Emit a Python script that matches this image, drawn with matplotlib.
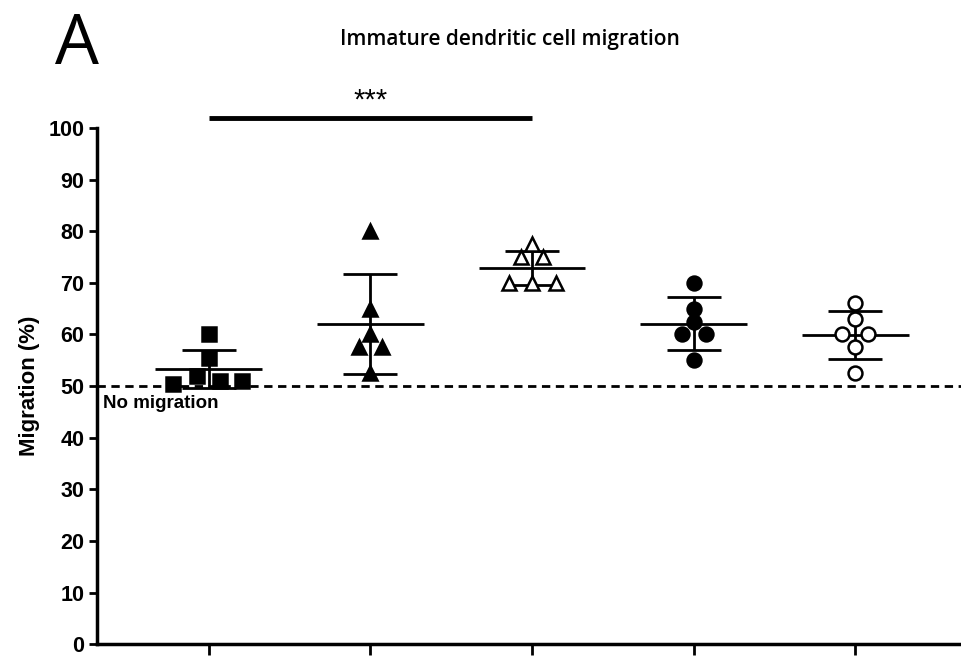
import numpy as np
import matplotlib.pyplot as plt

groups = ["sq", "tri", "otri", "circ", "ocirc"]
values = [
    [60, 55.5, 52, 51, 51, 50.5],
    [80, 65, 60, 57.5, 57.5, 52.5],
    [77.5, 75, 75, 70, 70, 70],
    [70, 65, 62.5, 60, 60, 55],
    [66, 63, 60, 60, 57.5, 52.5],
]
jitter = [
    [0, 0, -0.07, 0.07, 0.21, -0.22],
    [0, 0, 0, -0.07, 0.07, 0],
    [0, -0.07, 0.07, -0.14, 0, 0.15],
    [0, 0, 0, -0.07, 0.075, 0],
    [0, 0, -0.08, 0.08, 0, 0],
]
markers = ["s", "^", "^", "o", "o"]
filled = [True, True, False, True, False]
yticks = [0, 10, 20, 30, 40, 50, 60, 70, 80, 90, 100]

narrow = ["Liberation Sans Narrow", "Liberation Sans", "DejaVu Sans"]

fig = plt.figure(figsize=(9.62, 6.58), dpi=100)
ax = fig.add_axes([0.1008, 0.021, 0.8992, 0.7845])

for i, vals in enumerate(values):
    vals = np.array(vals)
    m = vals.mean()
    sd = vals.std(ddof=1)
    ax.hlines(m, i - 0.33, i + 0.33, color="black", lw=2, zorder=2)
    ax.vlines(i, m - sd, m + sd, color="black", lw=2, zorder=2)
    ax.hlines([m - sd, m + sd], i - 0.167, i + 0.167, color="black", lw=2, zorder=2)
    xs = i + np.array(jitter[i])
    size = 9.5 if markers[i] == "s" else 10
    ax.plot(xs, vals, linestyle="none", marker=markers[i], ms=size,
            mfc="black" if filled[i] else "white", mec="black", mew=1.8, zorder=3)

ax.axhline(50, color="black", lw=2, ls=(0, (3, 2)), zorder=1)
ax.text(-0.65, 48.3, "No migration", fontsize=13.5, fontweight="bold",
        family=narrow, va="top", ha="left")

ax.set_xlim(-0.69, 4.66)
ax.set_ylim(0, 100)
ax.set_yticks(yticks)
ax.set_xticks(range(len(groups)))
ax.set_xticklabels([])
ax.tick_params(axis="y", direction="out", length=6, width=2, pad=3)
ax.tick_params(axis="x", direction="out", length=8, width=2)
for lab in ax.get_yticklabels():
    lab.set_fontsize(15.5)
    lab.set_fontweight("bold")
    lab.set_family(narrow)
for s in ["top", "right"]:
    ax.spines[s].set_visible(False)
for s in ["left", "bottom"]:
    ax.spines[s].set_linewidth(2.5)
ax.set_ylabel("Migration (%)", fontsize=16, fontweight="bold", family=narrow, labelpad=6)

# significance bar
ax.plot([0, 2], [101.9, 101.9], color="black", lw=3.5, clip_on=False, solid_capstyle="butt")
ax.text(1, 102.6, "***", ha="center", va="bottom", fontsize=21, family=narrow)

fig.text(0.53, 0.94, "Immature dendritic cell migration", ha="center", va="center",
         fontsize=15, family=["Open Sans", "DejaVu Sans"], fontweight="semibold")
fig.text(0.057, 0.93, "A", ha="left", va="center", fontsize=50, family=["Open Sans", "DejaVu Sans"])

fig.savefig("out.png", dpi=100)
